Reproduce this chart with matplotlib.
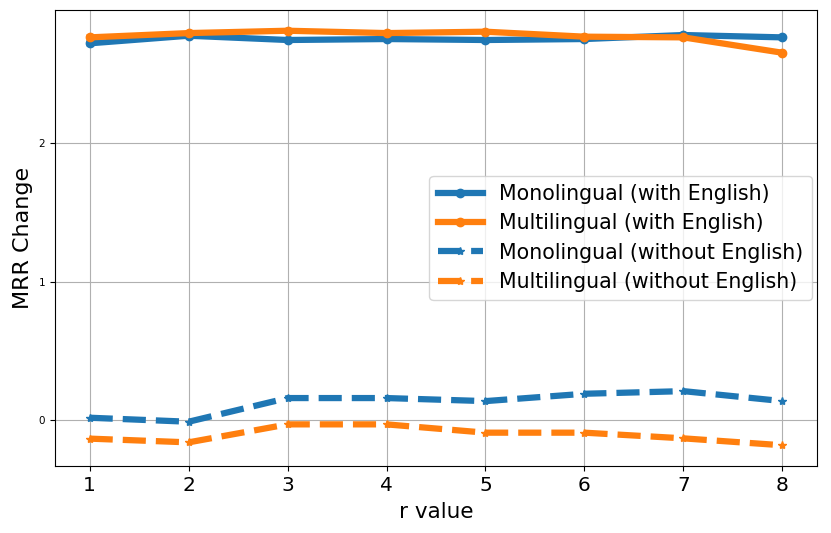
import matplotlib
matplotlib.use('Agg')
import matplotlib.pyplot as plt

r_values = [1, 2, 3, 4, 5, 6, 7, 8]
mono_with_en = [2.721, 2.776, 2.745, 2.752, 2.745, 2.752, 2.781, 2.764]
multi_with_en = [2.764, 2.795, 2.812, 2.795, 2.805, 2.769, 2.764, 2.653]
mono_without_en = [0.017, -0.012, 0.159, 0.159, 0.137, 0.190, 0.209, 0.137]
multi_without_en = [-0.134, -0.161, -0.031, -0.031, -0.091, -0.091, -0.132, -0.182]

fig = plt.figure(figsize=(8.31, 5.33), dpi=100)
ax = fig.add_axes([55 / 831, 1 - 466 / 533, (817 - 55) / 831, (466 - 10) / 533])

ax.plot(r_values, mono_with_en, color='#1f77b4', marker='o', linewidth=4.5, markersize=6,
        label='Monolingual (with English)')
ax.plot(r_values, multi_with_en, color='#ff7f0e', marker='o', linewidth=4.5, markersize=6,
        label='Multilingual (with English)')
ax.plot(r_values, mono_without_en, color='#1f77b4', marker='*', linestyle='--', linewidth=4.5, markersize=6,
        label='Monolingual (without English)')
ax.plot(r_values, multi_without_en, color='#ff7f0e', marker='*', linestyle='--', linewidth=4.5, markersize=6,
        label='Multilingual (without English)')

ax.grid(True)
ax.set_yticks([0, 1, 2])
ax.tick_params(axis='x', labelsize=14.5)
ax.tick_params(axis='y', labelsize=7.5)
ax.set_xlabel('r value', fontsize=15.5, labelpad=5)
ax.set_ylabel('MRR Change', fontsize=16)
ax.legend(fontsize=14.8, handlelength=2.2, labelspacing=0.45, loc='center right', borderaxespad=0.25)

plt.savefig('out.png', dpi=100)
